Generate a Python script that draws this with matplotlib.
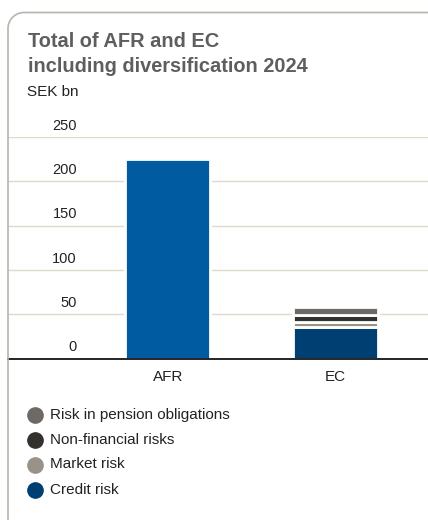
import numpy as np
import matplotlib.pyplot as plt
from matplotlib.lines import Line2D

plt.rcParams['font.family'] = ['Liberation Sans', 'DejaVu Sans']

# SEK bn
categories = ["AFR", "EC"]
afr_total = [225]
ec_parts = ["Credit risk", "Market risk", "Non-financial risks", "Risk in pension obligations"]
ec_values = [36, 5.5, 8, 8.5]
yticks = [0, 50, 100, 150, 200, 250]

afr_color = "#005ba1"
part_colors = ["#003f72", "#989289", "#32312e", "#6d6a65"]
grid_color = "#dedbc8"
card_color = "#b8b4ad"

W, H = 428, 520
fig = plt.figure(figsize=(W / 100, H / 100), dpi=100)

def fx(px):
    return px / W

def fy(py):
    return 1 - py / H

ax = fig.add_axes([fx(8), fy(358.5), fx(420), (358.5 - 137) / H])
ax.set_xlim(-0.953, 1.552)
ax.set_ylim(0, 250)

# light gridlines, tick labels sit just above each line
for v in yticks[1:]:
    ax.axhline(v, color=grid_color, lw=1, zorder=1)
for v in yticks:
    ax.annotate(str(v), xy=(0.164, v), xycoords=('axes fraction', 'data'),
                xytext=(0, 8), textcoords='offset points',
                ha='right', va='center', fontsize=10.5, color='#222222')

bar_w = 0.507
ax.bar(0, afr_total[0], width=bar_w, color=afr_color, edgecolor='white', lw=2, zorder=2)
bottom = 0
for val, col in zip(ec_values, part_colors):
    ax.bar(1, val, width=bar_w, bottom=bottom, color=col, edgecolor='white', lw=2, zorder=2)
    bottom += val

ax.set_xticks([0, 1])
ax.set_xticklabels(categories, fontsize=11, color='#222222')
ax.tick_params(axis='x', length=0, pad=8)
ax.set_yticks([])
for s in ['top', 'right', 'left']:
    ax.spines[s].set_visible(False)
ax.spines['bottom'].set_color('black')
ax.spines['bottom'].set_linewidth(1.2)
ax.spines['bottom'].set_zorder(3)

# card border with rounded top-left corner
r = 16
t = np.linspace(np.pi, np.pi / 2, 30)
cx, cy = 8 + r, 12.5 + r
px = np.concatenate([[8], cx + r * np.cos(t), [W]])
py = np.concatenate([[H], cy - r * np.sin(t), [12.5]])
fig.add_artist(Line2D(fx(px), fy(py), color=card_color, lw=1.2, transform=fig.transFigure))

fig.text(fx(28), fy(47), "Total of AFR and EC", fontsize=14.4, fontweight='bold',
         color='#5e5e5e', va='baseline')
fig.text(fx(28), fy(72), "including diversification 2024", fontsize=14.4, fontweight='bold',
         color='#5e5e5e', va='baseline')
fig.text(fx(27.5), fy(96), "SEK bn", fontsize=11, color='#222222', va='baseline')

# legend, top entry is the top of the stack
for i, (name, col) in enumerate(zip(ec_parts[::-1], part_colors[::-1])):
    y = 414.5 + i * 25
    fig.add_artist(Line2D([fx(35)], [fy(y)], marker='o', markersize=11, color=col,
                          lw=0, transform=fig.transFigure))
    fig.text(fx(50), fy(y), name, fontsize=11, color='#222222', va='center')

fig.savefig("out.png", dpi=100)
